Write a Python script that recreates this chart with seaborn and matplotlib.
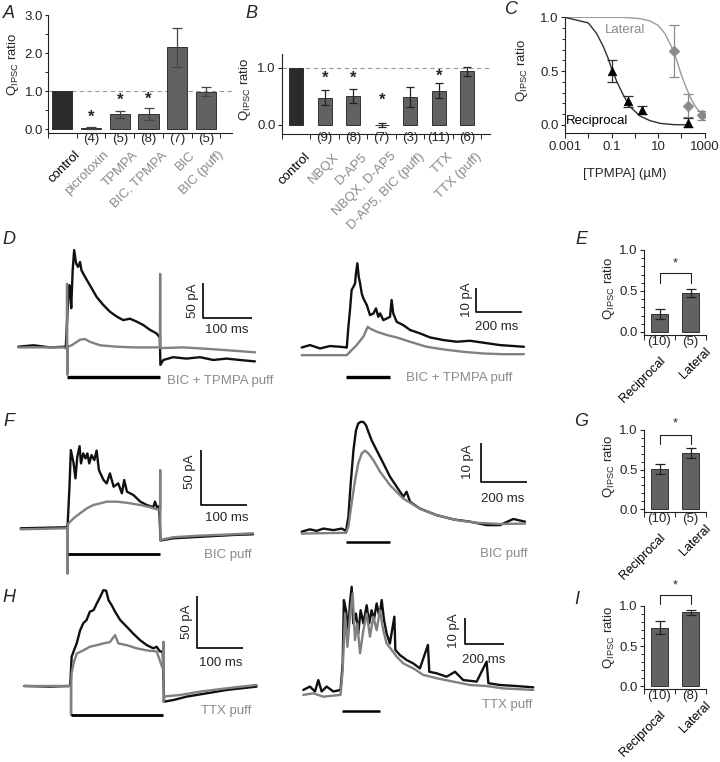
import numpy as np
import pandas as pd
import matplotlib
matplotlib.use('Agg')
import matplotlib.pyplot as plt
import matplotlib.transforms as mtransforms
from matplotlib.ticker import MultipleLocator, NullLocator
import seaborn as sns

# ---------------- data ----------------
# A: Q_IPSC ratio, reciprocal inhibition, GABA receptor antagonists
a_labels = ['control', 'picrotoxin', 'TPMPA', 'BIC, TPMPA', 'BIC', 'BIC (puff)']
a_vals = [1.0, 0.04, 0.39, 0.39, 2.15, 0.99]
a_err = [0, 0.03, 0.09, 0.16, 0.51, 0.11]
a_n = ['', '(4)', '(5)', '(8)', '(7)', '(5)']
a_star = [None, 0.32, 0.77, 0.78, None, None]

# B: glutamate receptor blockers / TTX
b_labels = ['control', 'NBQX', 'D-AP5', 'NBQX, D-AP5', 'D-AP5, BIC (puff)', 'TTX', 'TTX (puff)']
b_vals = [1.0, 0.48, 0.51, 0.0, 0.49, 0.60, 0.94]
b_err = [0, 0.13, 0.12, 0.04, 0.17, 0.13, 0.08]
b_n = ['', '(9)', '(8)', '(7)', '(3)', '(11)', '(6)']
b_star = [None, 0.82, 0.82, 0.44, None, 0.86, None]

# C: TPMPA dose response
rec_conc = [0.1, 0.5, 2, 200]
rec_val = [0.50, 0.22, 0.14, 0.02]
rec_err = [0.10, 0.05, 0.04, 0.04]
lat_conc = [50, 200, 800]
lat_val = [0.69, 0.18, 0.09]
lat_err = [0.24, 0.11, 0.04]
rec_fit_x = [0.001, 0.0017, 0.01, 0.023, 0.045, 0.072, 0.1, 0.17, 0.32, 0.62, 1.66, 4.5, 12, 45, 236]
rec_fit_y = [1.0, 0.988, 0.948, 0.849, 0.725, 0.617, 0.525, 0.401, 0.278, 0.17, 0.083, 0.04, 0.015, 0.003, 0.0]
lat_fit_x = [0.001, 0.3, 1.66, 4.5, 10, 19.6, 38, 63, 100, 167, 275, 455, 880, 1000]
lat_fit_y = [1.0, 1.0, 0.988, 0.966, 0.926, 0.849, 0.725, 0.602, 0.463, 0.34, 0.231, 0.154, 0.093, 0.085]

# E, G, I: reciprocal vs lateral
eg_labels = ['Reciprocal', 'Lateral']
e_vals, e_err, e_n = [0.22, 0.48], [0.06, 0.05], ['(10)', '(5)']
g_vals, g_err, g_n = [0.51, 0.71], [0.065, 0.065], ['(10)', '(5)']
i_vals, i_err, i_n = [0.73, 0.92], [0.08, 0.035], ['(10)', '(8)']

# traces: time (ms), current (pA)
dl_black_t = [0, 31, 65, 97, 101, 104, 107, 108, 111, 114, 118, 122, 126, 129, 136, 146, 160, 173, 187, 201,
              214, 228, 241, 255, 269, 282, 289, 290, 296, 316, 343, 371, 398, 425, 452, 483]
dl_black_i = [0, 2, -1, 0, 57, 88, 71, 55, 109, 138, 119, 114, 121, 109, 100, 88, 71, 60, 50, 43,
              38, 40, 36, 31, 24, 19, 13, -26, -19, -15, -17, -15, -19, -17, -19, -21]
dl_grey_t = [0, 92, 99, 99.5, 100, 101, 109, 126, 136, 146, 167, 201, 235, 289, 289.5, 290, 337, 384, 425, 483]
dl_grey_i = [-1, -1, -3, 90, -40, 0, 2, 10, 11, 7, 2, 0, -1, -1, 104, -2, -1, -3, -5, -8]

dr_black_t = [0, 36, 80, 123, 167, 196, 203, 210, 217, 225, 232, 236, 242, 248, 254, 261, 268, 283, 297, 312,
              323, 333, 341, 355, 370, 384, 391, 398, 413, 442, 471, 514, 558, 616, 674, 732, 790, 862, 966]
dr_black_i = [-0.3, 0.7, -0.7, 0.3, 0, -0.3, 8.3, 15.3, 23.6, 25, 26.4, 30.6, 34.8, 29.2, 26.4, 22.2, 20.2, 17.4,
              13.2, 13.9, 16, 12.5, 13.9, 11.1, 11.8, 12.5, 19.5, 13.9, 10.4, 9.0, 7.0, 5.6, 3.9, 2.8, 2.1, 2.5,
              1.7, 0.7, 0]
dr_grey_t = [0, 196, 210, 239, 268, 287, 297, 326, 370, 413, 471, 543, 616, 703, 790, 877, 966]
dr_grey_i = [-3.5, -3.5, -2.1, 0.7, 4.2, 8.3, 7.6, 6.3, 4.9, 3.9, 2.1, 0, -1.1, -2.1, -2.8, -3.1, -3.1]

fl_black_t = [0, 64, 100, 102, 106, 109, 115, 119, 123, 128, 131, 136, 141, 145, 149, 154, 160, 165, 170, 180,
              187, 194, 202, 212, 220, 225, 231, 245, 260, 274, 288, 292, 296, 301, 304, 332, 376, 419, 463, 505]
fl_black_i = [0, 0.6, 0.9, 3, 37.5, 70.5, 58.5, 45, 64.5, 74, 58.5, 67.5, 63, 67.5, 58.5, 66, 61.5, 70, 52.5,
              43.5, 40.5, 49.5, 37.5, 40.5, 31.5, 43.5, 33, 30, 24, 21, 19, 24, 19, 20, -11, -9, -8, -7, -6, -5.4]
fl_grey_t = [0, 100, 101.5, 102, 102.5, 104, 115, 129, 144, 158, 173, 187, 209, 231, 260, 281, 296, 303,
             303.3, 303.6, 304, 332, 390, 463, 505]
fl_grey_i = [-0.9, 0, 0, -41, 2, 4.5, 9, 13.5, 18, 21, 22.5, 24, 24, 23, 21, 19, 17, 17, 52.5, -10.5, -10.5,
             -8, -6.6, -5.4, -4.5]

fr_black_t = [0, 36, 65, 94, 138, 174, 193, 203, 213, 225, 236, 246, 256, 268, 280, 290, 304, 326, 355, 384,
              413, 442, 456, 471, 514, 587, 659, 732, 804, 862, 920, 971]
fr_black_i = [0.3, 0.9, 0.5, 1.1, 0.7, 1.1, 0.5, 4.2, 12.8, 21.5, 26.7, 28.5, 28.9, 28.9, 28, 26.3, 24.1, 21.5,
              18.1, 14.6, 12, 9.4, 10.7, 8.1, 6.3, 4.6, 3.5, 2.9, 2.0, 2.0, 3.6, 2.9]
fr_grey_t = [0, 193, 203, 217, 232, 246, 261, 275, 290, 312, 341, 384, 442, 514, 587, 674, 761, 862, 971]
fr_grey_i = [-0.2, 0, 1.6, 7.6, 13.7, 18.1, 20.7, 21.4, 20.7, 18.9, 15.9, 12.4, 8.9, 6.3, 4.6, 3.3, 2.6, 2.3, 2.4]

hl_black_t = [0, 56, 99, 102, 107, 113, 120, 127, 134, 141, 149, 156, 163, 170, 176, 181, 188, 195, 206, 220,
              234, 248, 263, 277, 284, 291, 297, 300, 320, 348, 391, 434, 498]
hl_black_i = [0, -0.6, 0, 28, 34, 41, 53, 60, 63, 71, 72.5, 79, 85, 91.6, 91, 82, 77, 71, 63, 56.6, 50, 44, 39,
              36, 37.5, 33, 33, -15, -13.4, -10.2, -7, -3.8, -0.6]
hl_grey_t = [0, 99, 100.5, 100.7, 101, 102, 106, 113, 127, 141, 156, 170, 184, 195, 202, 220, 241, 263, 284,
             293, 297, 298.3, 298.6, 299, 300, 334, 377, 434, 498]
hl_grey_i = [0, 0, 0, -27.7, 0, 12, 21.6, 31, 34, 37.5, 39, 40.7, 42, 48.6, 40.7, 39, 36, 34, 33, 21.6, 17, 17,
             42.3, -15, -10, -8.6, -5.4, -2.2, 1]

hr_black_t = [0, 34, 60, 77, 94, 120, 154, 191, 202, 208, 219, 231, 239, 248, 256, 270, 282, 294, 308, 325, 338,
              350, 362, 376, 390, 402, 414, 427, 444, 467, 472, 496, 530, 564, 598, 639, 646, 684, 735, 778, 820,
              889, 940, 949, 1008, 1094, 1179]
hr_black_i = [0, 1.3, -0.6, 3.8, -0.6, 1.3, -0.6, 0, 10.2, 34.6, 30.7, 23, 33.3, 39.7, 25.6, 29.4, 21.8, 30.7,
              25.6, 32.6, 25.6, 30.7, 26.9, 33.3, 28.2, 34.6, 26.9, 21.8, 17.9, 28.2, 15.4, 13.4, 11.5, 10.2, 8.3,
              17.3, 7.0, 6.4, 5.1, 7.0, 3.8, 3.2, 10.9, 2.6, 1.9, 1.5, 1.0]
hr_grey_t = [0, 51, 103, 191, 202, 214, 226, 239, 253, 265, 277, 291, 308, 325, 342, 359, 376, 393, 410, 427,
             453, 479, 513, 564, 615, 684, 769, 855, 940, 1025, 1179]
hr_grey_i = [-1.9, -1.3, -2.6, -1.9, 7.7, 29.4, 16.6, 28.2, 37.1, 19.2, 25.6, 14.1, 23, 29.4, 20.5, 28.2, 23,
             30.7, 23, 17.9, 15.4, 12.8, 10.2, 8.3, 5.8, 4.5, 3.2, 1.9, 1.5, 0.6, 0]

# ---------------- style ----------------
sns.set_style('ticks')
plt.rcParams['font.family'] = ['Liberation Sans', 'DejaVu Sans']
plt.rcParams['font.size'] = 9.5
plt.rcParams['xtick.labelsize'] = 9.5
plt.rcParams['ytick.labelsize'] = 9.5
plt.rcParams['axes.linewidth'] = 0.8
plt.rcParams['xtick.major.width'] = 0.8
plt.rcParams['ytick.major.width'] = 0.8
plt.rcParams['xtick.minor.width'] = 0.7
plt.rcParams['ytick.minor.width'] = 0.7
plt.rcParams['xtick.major.size'] = 3.5
plt.rcParams['ytick.major.size'] = 3
plt.rcParams['ytick.minor.size'] = 2
plt.rcParams['ytick.major.pad'] = 1.5
plt.rcParams['xtick.major.pad'] = 2.5
plt.rcParams['axes.edgecolor'] = '#222222'

DARK = '#2b2b2b'
BAR = '#626262'
TRACE_GREY = '#808080'
LABEL_GREY = '#8a8a8a'
QLAB = r'Q$_\mathregular{IPSC}$ ratio'

W, H = 720, 762
fig = plt.figure(figsize=(7.2, 7.62), dpi=100)


def add_ax(x0, y0, x1, y1):
    return fig.add_axes([x0 / W, 1 - y1 / H, (x1 - x0) / W, (y1 - y0) / H])


def bar_panel(ax, labels, vals, errs, colors, width, ecolor, capsize):
    df = pd.DataFrame({'cond': labels, 'ratio': vals})
    sns.barplot(data=df, x='cond', y='ratio', hue='cond', palette=dict(zip(labels, colors)),
                legend=False, width=width, edgecolor='#1e1e1e', linewidth=0.6, errorbar=None, ax=ax)
    idx = [i for i, e in enumerate(errs) if e > 0]
    ax.errorbar(idx, [vals[i] for i in idx], yerr=[errs[i] for i in idx], fmt='none',
                ecolor=ecolor, elinewidth=0.9, capsize=capsize, capthick=0.9)
    ax.set_xlabel('')
    ax.set_ylabel('')
    ax.set_xticks(range(len(labels)))
    ax.set_xticklabels([])
    ax.tick_params(axis='x', which='major', length=0)
    ax.set_xticks(np.arange(-0.5, len(labels)), minor=True)
    ax.tick_params(axis='x', which='minor', length=3.5)
    sns.despine(ax=ax)


def under_labels(ax, n_labels, names, colors, offsets, n_dy=-6, size=9.5):
    tr = mtransforms.blended_transform_factory(ax.transData, ax.transAxes)
    for i, n in enumerate(n_labels):
        if n:
            ax.annotate(n, (i, 0), xycoords=tr, xytext=(0, n_dy), textcoords='offset pixels',
                        ha='center', va='center')
    for i, (nm, c, off) in enumerate(zip(names, colors, offsets)):
        ax.annotate(nm, (i, 0), xycoords=tr, xytext=off, textcoords='offset pixels', rotation=45,
                    ha='right', va='top', rotation_mode='anchor', color=c, fontsize=size)


def trace_panel(rect, xlim, ylim, black, grey, puff, scale, vtxt, htxt, label):
    ax = add_ax(*rect)
    sns.lineplot(x=black[0], y=black[1], sort=False, estimator=None, color='#101010', lw=1.7, ax=ax)
    sns.lineplot(x=grey[0], y=grey[1], sort=False, estimator=None, color=TRACE_GREY, lw=1.7, ax=ax)
    p0, p1, py, plw = puff
    ax.plot([p0, p1], [py, py], color='black', lw=plw, solid_capstyle='butt')
    sx, sy, sw, sh = scale
    ax.plot([sx, sx, sx + sw], [sy + sh, sy, sy], color='black', lw=1.2, solid_capstyle='butt')
    ax.text(vtxt[0], vtxt[1], vtxt[2], rotation=90, ha='center', va='center')
    ax.text(htxt[0], htxt[1], htxt[2], ha='center', va='center')
    ax.text(label[0], label[1], label[2], ha='left', va='center', color=LABEL_GREY)
    ax.set_xlim(xlim)
    ax.set_ylim(ylim)
    ax.axis('off')
    return ax


# ---------------- A ----------------
ax_a = add_ax(48, 15, 231.8, 133)
bar_panel(ax_a, a_labels, a_vals, a_err, [DARK] + [BAR] * 5, 0.7, '#444444', 3.5)
ax_a.axhline(1.0, ls=(0, (4, 3)), color='#999999', lw=0.8, zorder=0)
for i, s in enumerate(a_star):
    if s is not None:
        ax_a.text(i, s, '*', ha='center', va='center', fontsize=12, fontweight='bold')
ax_a.set_xlim(-0.5, 5.9)
ax_a.set_ylim(-0.1, 3.0)
ax_a.set_yticks([0, 1, 2, 3])
ax_a.set_yticklabels(['0.0', '1.0', '2.0', '3.0'])
ax_a.yaxis.set_minor_locator(MultipleLocator(0.5))
ax_a.tick_params(axis='y', which='major', length=2.5, pad=1)
ax_a.set_ylabel(QLAB)
ax_a.yaxis.set_label_coords(-0.145, 0.58)
under_labels(ax_a, a_n, a_labels, ['black'] + [LABEL_GREY] * 5, [(12, -16)] * 6, n_dy=-6)

# ---------------- B ----------------
ax_b = add_ax(282, 53.75, 490, 133.5)
bar_panel(ax_b, b_labels, b_vals, b_err, [DARK] + [BAR] * 6, 0.5, '#222222', 3)
ax_b.axhline(1.0, ls=(0, (4, 3)), color='#999999', lw=0.8, zorder=0)
for i, s in enumerate(b_star):
    if s is not None:
        ax_b.text(i, s, '*', ha='center', va='center', fontsize=12, fontweight='bold')
ax_b.set_xlim(-0.5, 6.8)
ax_b.set_ylim(-0.15, 1.25)
ax_b.set_yticks([0, 1])
ax_b.set_yticklabels(['0.0', '1.0'])
ax_b.set_ylabel(QLAB)
ax_b.yaxis.set_label_coords(-0.14, 0.55)
under_labels(ax_b, b_n, b_labels, ['black'] + [LABEL_GREY] * 6, [(8, -17)] * 7, n_dy=-5)

# ---------------- C ----------------
ax_c = add_ax(565, 17, 704.6, 133)
ax_c.set_xscale('log')
sns.lineplot(x=lat_fit_x, y=lat_fit_y, color='#9a9a9a', lw=1.0, ax=ax_c)
sns.lineplot(x=rec_fit_x, y=rec_fit_y, color='#303030', lw=1.0, ax=ax_c)
ax_c.errorbar(lat_conc, lat_val, yerr=lat_err, fmt='none', ecolor='#8a8a8a', elinewidth=0.9,
              capsize=3.5, capthick=0.9)
ax_c.errorbar(rec_conc, rec_val, yerr=rec_err, fmt='none', ecolor='#303030', elinewidth=0.9,
              capsize=3.5, capthick=0.9)
sns.scatterplot(x=lat_conc, y=lat_val, marker='D', s=30, color='#8a8a8a', edgecolor='#8a8a8a',
                ax=ax_c, zorder=3)
sns.scatterplot(x=rec_conc, y=rec_val, marker='^', s=38, color='black', edgecolor='black',
                ax=ax_c, zorder=3)
ax_c.text(0.38, 0.88, 'Lateral', color='#8a8a8a', ha='center', va='center')
ax_c.text(0.025, 0.04, 'Reciprocal', color='black', ha='center', va='center')
ax_c.set_xlim(0.001, 1000)
ax_c.set_ylim(-0.075, 1.003)
ax_c.set_xticks([1e-3, 1e-2, 1e-1, 1, 10, 100, 1000])
ax_c.set_xticklabels(['0.001', '', '0.1', '', '10', '', '1000'])
ax_c.xaxis.set_minor_locator(NullLocator())
ax_c.set_yticks([0, 0.5, 1.0])
ax_c.set_yticklabels(['0.0', '0.5', '1.0'])
ax_c.yaxis.set_minor_locator(MultipleLocator(0.1))
ax_c.tick_params(axis='y', which='minor', length=2)
ax_c.set_xlabel('[TPMPA] (µM)')
ax_c.xaxis.set_label_coords(0.43, -0.30)
ax_c.set_ylabel(QLAB)
ax_c.yaxis.set_label_coords(-0.25, 0.54)
sns.despine(ax=ax_c)

# ---------------- E, G, I ----------------
for (y0, y1), vals, errs, ns, br, st, ylx, yly in [
        ((250, 335), e_vals, e_err, e_n, (0.60, 0.72), 0.84, -0.44, 0.55),
        ((430, 512), g_vals, g_err, g_n, (0.82, 0.94), 1.08, -0.44, 0.56),
        ((606, 689), i_vals, i_err, i_n, (1.02, 1.14), 1.26, -0.44, 0.62)]:
    ax = add_ax(644, y0, 706, y1)
    bar_panel(ax, eg_labels, vals, errs, [BAR, BAR], 0.52, '#222222', 3.5)
    ax.plot([0, 0, 1, 1], [br[0], br[1], br[1], br[0]], color='#222222', lw=0.8, clip_on=False)
    ax.text(0.5, st, '*', ha='center', va='center', fontsize=9)
    ax.set_xlim(-0.5, 1.5)
    ax.set_ylim(-0.037, 1.0)
    ax.set_yticks([0, 0.5, 1.0])
    ax.set_yticklabels(['0.0', '0.5', '1.0'])
    ax.yaxis.set_minor_locator(MultipleLocator(0.1))
    ax.tick_params(axis='y', which='minor', length=2)
    ax.set_ylabel(QLAB)
    ax.yaxis.set_label_coords(ylx, yly)
    under_labels(ax, ns, eg_labels, ['black', 'black'], [(0, -20), (14, -10)], n_dy=-7, size=9)

# ---------------- traces ----------------
trace_panel((10, 240, 285, 395), (-16.9, 544.3), (-69, 152.4),
            (dl_black_t, dl_black_i), (dl_grey_t, dl_grey_i),
            (99, 289, -43, 2.4), (377, 41, 100, 50),
            (356, 66, '50 pA'), (426, 24, '100 ms'), (303, -49, 'BIC + TPMPA puff'))
trace_panel((295, 240, 530, 395), (-29.1, 992.6), (-20.1, 44.5),
            (dr_black_t, dr_black_i), (dr_grey_t, dr_grey_i),
            (193, 384, -12.8, 2.4), (758, 14.5, 200, 10),
            (719, 19.5, '10 pA'), (849, 8.2, '200 ms'), (455, -13, 'BIC + TPMPA puff'))
trace_panel((10, 420, 285, 580), (-23.3, 574.6), (-46.6, 97.6),
            (fl_black_t, fl_black_i), (fl_grey_t, fl_grey_i),
            (102, 303, -23.4, 2.0), (391, 21, 100, 50),
            (368, 51, '50 pA'), (448, 9.5, '100 ms'), (399, -24, 'BIC puff'))
trace_panel((295, 415, 535, 580), (-29.1, 1014.3), (-12.3, 30.7),
            (fr_black_t, fr_black_i), (fr_grey_t, fr_grey_i),
            (193, 384, -2.5, 1.8), (778, 13.3, 200, 10),
            (724, 18.5, '10 pA'), (875, 8.8, '200 ms'), (775, -5.4, 'BIC puff'))
trace_panel((10, 585, 285, 745), (-30, 558.9), (-56.4, 96.5),
            (hl_black_t, hl_black_i), (hl_grey_t, hl_grey_i),
            (100.7, 298.5, -27.7, 2.0), (370, 36, 100, 50),
            (348, 61.4, '50 pA'), (422, 21.7, '100 ms'), (380, -24, 'TTX puff'))
trace_panel((295, 585, 540, 745), (-42.6, 1213.8), (-21.2, 40.4),
            (hr_black_t, hr_black_i), (hr_grey_t, hr_grey_i),
            (197, 393, -8.3, 1.8), (829, 17.6, 200, 10),
            (774, 23, '10 pA'), (927, 11.5, '200 ms'), (915, -5.8, 'TTX puff'))

# ---------------- panel letters ----------------
for letter, x, y in [('A', 9, 13), ('B', 251, 13), ('C', 512, 9), ('D', 9, 240), ('E', 581, 239),
                     ('F', 9, 421), ('G', 581, 421), ('H', 9, 598), ('I', 577, 599)]:
    fig.text(x / W, 1 - y / H, letter, fontsize=13, style='italic', ha='center', va='center')

fig.savefig('out.png', dpi=100)
